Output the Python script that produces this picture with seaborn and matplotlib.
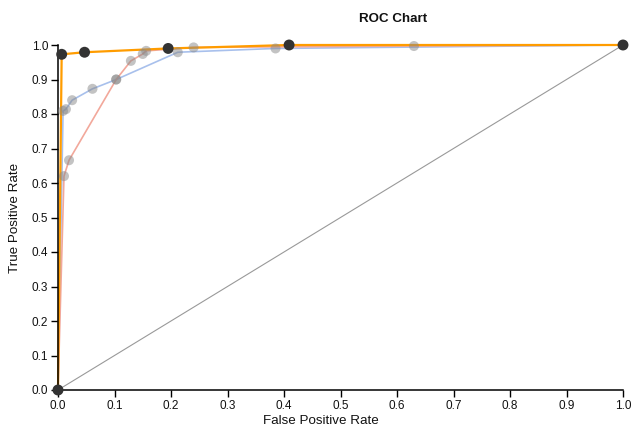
import matplotlib
matplotlib.use("Agg")
import matplotlib.pyplot as plt
import seaborn as sns
import pandas as pd

# ROC curves
blue_fpr = [0.0, 0.009, 0.014, 0.025, 0.061, 0.103, 0.212, 0.385, 1.0]
blue_tpr = [0.0, 0.809, 0.814, 0.840, 0.873, 0.900, 0.979, 0.990, 1.0]

red_fpr = [0.0, 0.0106, 0.0195, 0.103, 0.129, 0.150, 0.156, 0.240, 0.630, 1.0]
red_tpr = [0.0, 0.620, 0.666, 0.900, 0.954, 0.974, 0.983, 0.993, 0.997, 1.0]

orange_fpr = [0.0, 0.0065, 0.047, 0.195, 0.409, 1.0]
orange_tpr = [0.0, 0.973, 0.979, 0.990, 1.000, 1.0]

diag = [0.0, 1.0]
ticks = [0.0, 0.1, 0.2, 0.3, 0.4, 0.5, 0.6, 0.7, 0.8, 0.9, 1.0]

sns.set_theme(style="ticks")
plt.rcParams['font.family'] = ['Liberation Sans', 'DejaVu Sans']

df_blue = pd.DataFrame({"fpr": blue_fpr, "tpr": blue_tpr})
df_red = pd.DataFrame({"fpr": red_fpr, "tpr": red_tpr})
df_orange = pd.DataFrame({"fpr": orange_fpr, "tpr": orange_tpr})
df_diag = pd.DataFrame({"fpr": diag, "tpr": diag})

fig = plt.figure(figsize=(6.31, 4.30), dpi=100)
ax = fig.add_axes([58/631, 40/430, (623-58)/631, (390-45)/430])

sns.lineplot(data=df_diag, x="fpr", y="tpr", ax=ax, color="#999999", lw=0.8, sort=False)
sns.lineplot(data=df_blue, x="fpr", y="tpr", ax=ax, color="#a8c0ec", lw=1.2, sort=False)
sns.lineplot(data=df_red, x="fpr", y="tpr", ax=ax, color="#f2a89b", lw=1.2, sort=False)
sns.lineplot(data=df_orange, x="fpr", y="tpr", ax=ax, color="#ff9c00", lw=1.6, sort=False)

for d in (df_blue, df_red):
    sns.scatterplot(data=d, x="fpr", y="tpr", ax=ax, color="#888888", alpha=0.5,
                    s=52, edgecolor="none", clip_on=False, zorder=5)
sns.scatterplot(data=df_orange, x="fpr", y="tpr", ax=ax, color="#333333",
                s=62, edgecolor="none", clip_on=False, zorder=6)
for l in ax.lines:
    l.set_clip_on(False)

ax.set_xlim(0, 1)
ax.set_ylim(0, 1)
ax.set_xticks(ticks)
ax.set_yticks(ticks)
ax.set_xticklabels([f"{t:.1f}" for t in ticks])
ax.set_yticklabels([f"{t:.1f}" for t in ticks])
ax.tick_params(labelsize=8.5, length=5, width=1, color="black", labelcolor="#111111", pad=2)
for s in ("left", "bottom"):
    ax.spines[s].set_color("black")
    ax.spines[s].set_linewidth(1.1)
sns.despine(ax=ax)
ax.set_xlabel("")
ax.set_ylabel("")
fig.text(321/631, 1 - 421/430, "False Positive Rate", ha="center", va="center", fontsize=9.6, color="#111111")
fig.text(15/631, 1 - 218/430, "True Positive Rate", ha="center", va="center", rotation=90, fontsize=9.6, color="#111111")
fig.text(393/631, 1 - 19/430, "ROC Chart", ha="center", va="center", fontsize=9.6, fontweight="bold", color="#111111")

fig.savefig("out.png", dpi=100)
